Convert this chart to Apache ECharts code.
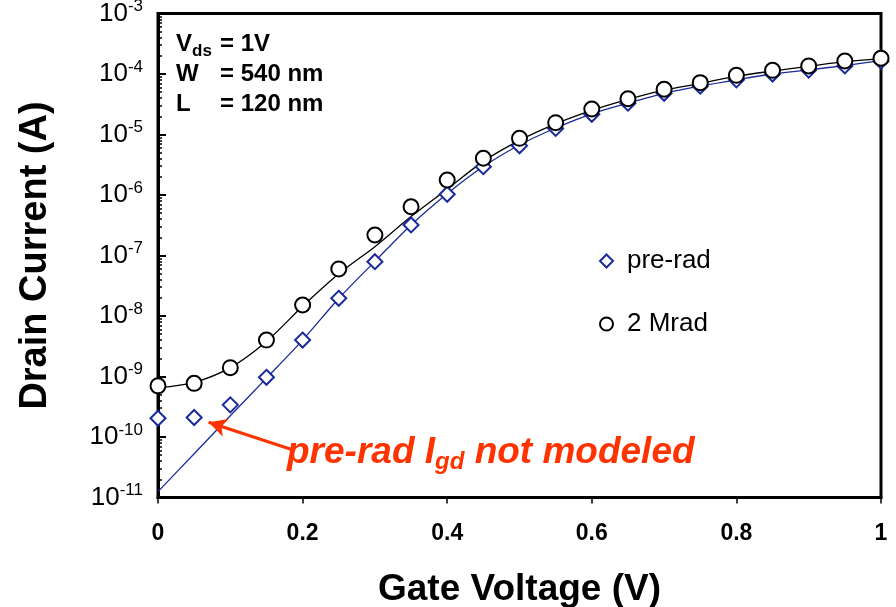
<!DOCTYPE html>
<html>
<head>
<meta charset="utf-8">
<script src="https://cdn.jsdelivr.net/npm/echarts@6/dist/echarts.min.js"></script>
<style>html,body{margin:0;padding:0;background:#fff}#c{width:896px;height:607px}</style>
</head>
<body>
<div id="c"></div>
<script>
// Gate voltage (V)
const gateV = [0, 0.05, 0.1, 0.15, 0.2, 0.25, 0.3, 0.35, 0.4, 0.45, 0.5, 0.55, 0.6, 0.65, 0.7, 0.75, 0.8, 0.85, 0.9, 0.95, 1.0];
// Measured drain current, pre-rad (diamonds)
const preRad = [2.04e-10, 2.1e-10, 3.4e-10, 9.7e-10, 4.0e-9, 1.96e-8, 7.9e-8, 3.2e-7, 1.03e-6, 2.94e-6, 6.5e-6, 1.26e-5, 2.16e-5, 3.3e-5, 4.8e-5, 6.3e-5, 8.0e-5, 1.0e-4, 1.16e-4, 1.36e-4, 1.64e-4];
// Measured drain current, 2 Mrad (circles)
const mrad2 = [7.0e-10, 7.7e-10, 1.4e-9, 4.0e-9, 1.52e-8, 6.0e-8, 2.18e-7, 6.4e-7, 1.77e-6, 4.05e-6, 8.65e-6, 1.57e-5, 2.64e-5, 3.9e-5, 5.6e-5, 7.2e-5, 9.5e-5, 1.15e-4, 1.36e-4, 1.64e-4, 1.82e-4];
// Model curves
const preModel = [1.25e-11, 5.3e-11, 2.24e-10, 9.4e-10, 4.0e-9, 1.95e-8, 8.0e-8, 3.2e-7, 1.05e-6, 2.95e-6, 6.7e-6, 1.28e-5, 2.2e-5, 3.3e-5, 4.8e-5, 6.3e-5, 8.0e-5, 1.0e-4, 1.17e-4, 1.38e-4, 1.66e-4];
const radModel = [6.5e-10, 8.0e-10, 1.4e-9, 3.8e-9, 1.45e-8, 5.0e-8, 1.4e-7, 4.4e-7, 1.25e-6, 3.6e-6, 8.0e-6, 1.5e-5, 2.5e-5, 3.8e-5, 5.4e-5, 7.0e-5, 9.2e-5, 1.12e-4, 1.34e-4, 1.6e-4, 1.8e-4];
// Axis ticks
const xTicks = [0, 0.2, 0.4, 0.6, 0.8, 1];
const yExponents = [-11, -10, -9, -8, -7, -6, -5, -4, -3];
// Annotation arrow endpoints (data coords)
const arrowTail = [0.187, 6.1e-11];
const arrowTip = [0.070, 1.75e-10];

const BLUE = '#1a2a9c';
const RED = '#ff3300';
const FONT = 'Liberation Sans, Arial, sans-serif';

const minorVals = [];
for (let e = -11; e < -3; e++) for (let m = 2; m <= 9; m++) minorVals.push(m * Math.pow(10, e));

const zip = (xs, ys) => xs.map((x, i) => [x, ys[i]]);

const chart = echarts.init(document.getElementById('c'), null, {renderer: 'canvas'});
chart.setOption({
  animation: false,
  grid: {left: 158, right: 15, top: 13.5, bottom: 109.5, containLabel: false, outerBoundsMode: 'none',
    show: true, borderColor: '#000', borderWidth: 3, backgroundColor: 'transparent'},
  legend: {
    orient: 'vertical', left: 594, top: 243, itemGap: 37, itemWidth: 13, itemHeight: 13,
    data: ['pre-rad', '2 Mrad'],
    textStyle: {fontFamily: FONT, fontSize: 26, color: '#000', padding: [0, 0, 0, 9]}
  },
  xAxis: {
    type: 'value', min: 0, max: 1, interval: 0.2,
    name: 'Gate Voltage (V)', nameLocation: 'middle', nameGap: 74,
    nameTextStyle: {fontFamily: FONT, fontWeight: 'bold', fontSize: 37, color: '#000'},
    axisLine: {lineStyle: {color: '#000', width: 3}},
    axisTick: {inside: false, length: 6, lineStyle: {color: '#000', width: 1.5}},
    axisLabel: {margin: 25, fontFamily: FONT, fontWeight: 'bold', fontSize: 23, color: '#000',
      formatter: v => xTicks.some(t => Math.abs(t - v) < 1e-9) ? String(+v.toFixed(1)) : ''},
    splitLine: {show: false}
  },
  yAxis: [{
    type: 'log', logBase: 10, min: 1e-11, max: 1e-3,
    name: 'Drain Current (A)', nameLocation: 'middle', nameGap: 103,
    nameTextStyle: {fontFamily: FONT, fontWeight: 'bold', fontSize: 38, color: '#000'},
    axisLine: {lineStyle: {color: '#000', width: 3}},
    axisTick: {inside: true, length: 8, lineStyle: {color: '#000', width: 2}},
    axisLabel: {
      margin: 15,
      formatter: v => '{b|10}{s|' + Math.round(Math.log10(v)) + '}',
      rich: {
        b: {fontFamily: FONT, fontSize: 26, color: '#000'},
        s: {fontFamily: FONT, fontSize: 17, color: '#000', padding: [0, 0, 14, 0]}
      }
    },
    splitLine: {show: false}
  }, {
    type: 'log', logBase: 10, min: 1e-11, max: 1e-3, position: 'left',
    axisLine: {show: false},
    axisTick: {show: true, inside: true, length: 4, customValues: minorVals, lineStyle: {color: '#000', width: 1.5}},
    axisLabel: {show: false},
    splitLine: {show: false}
  }],
  series: [
    {name: 'preModel', type: 'line', data: zip(gateV, preModel), smooth: 0.3, showSymbol: false, z: 2,
      lineStyle: {color: BLUE, width: 1.3},
      markLine: {silent: true, symbol: ['none', 'arrow'], symbolSize: [14, 18], animation: false,
        label: {show: false}, lineStyle: {color: RED, width: 3, type: 'solid'},
        data: [[{coord: arrowTail}, {coord: arrowTip}]]}},
    {name: 'radModel', type: 'line', data: zip(gateV, radModel), smooth: 0.3, showSymbol: false, z: 2,
      lineStyle: {color: '#000', width: 1.3}},
    {name: 'pre-rad', type: 'scatter', data: zip(gateV, preRad), symbol: 'emptyDiamond', symbolSize: 15, z: 3,
      itemStyle: {color: BLUE, borderColor: BLUE, borderWidth: 1.6, opacity: 1}},
    {name: '2 Mrad', type: 'scatter', data: zip(gateV, mrad2), symbol: 'emptyCircle', symbolSize: 15, z: 4,
      itemStyle: {color: '#000', borderColor: '#000', borderWidth: 1.6, opacity: 1}}
  ],
  graphic: [
    {type: 'text', left: 176, top: 29, z: 10, style: {
      text: '{l|V}{sub|ds}{e|= 1V}\n{l2|W}{e|= 540 nm}\n{l2|L}{e|= 120 nm}',
      fill: '#000',
      rich: {
        l: {fontWeight: 'bold', fontSize: 24, fontFamily: FONT, lineHeight: 30},
        sub: {fontWeight: 'bold', fontSize: 17, fontFamily: FONT, width: 28, padding: [14, 0, 0, 0], lineHeight: 30},
        l2: {fontWeight: 'bold', fontSize: 24, fontFamily: FONT, width: 44, lineHeight: 30},
        e: {fontWeight: 'bold', fontSize: 24, fontFamily: FONT, lineHeight: 30}
      }}},
    {type: 'text', left: 287, top: 432, z: 10, style: {
      text: '{a|pre-rad I}{s|gd}{a| not modeled}',
      fill: RED,
      rich: {
        a: {fontWeight: 'bold', fontStyle: 'italic', fontSize: 37, fontFamily: FONT, color: RED, lineHeight: 44},
        s: {fontWeight: 'bold', fontStyle: 'italic', fontSize: 24, fontFamily: FONT, color: RED, padding: [18, 0, 0, 0], lineHeight: 44}
      }}}
  ]
});
</script>
</body>
</html>
